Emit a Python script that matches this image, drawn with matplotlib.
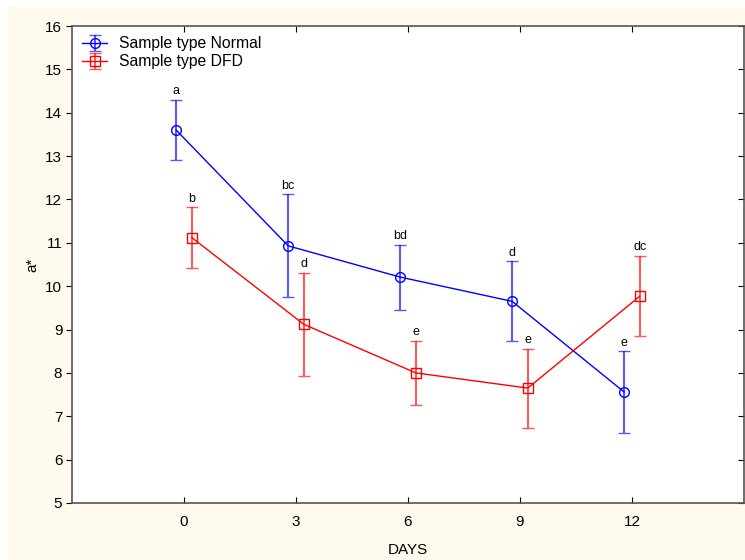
import numpy as np
import matplotlib.pyplot as plt
from matplotlib.patches import Rectangle

plt.rcParams['font.family'] = ['Liberation Sans', 'DejaVu Sans']

# DATA -------------------
days = ['0', '3', '6', '9', '12']

normal_mean = [13.6, 10.93, 10.21, 9.65, 7.56]
normal_err = [0.70, 1.19, 0.75, 0.92, 0.94]
normal_letters = ['a', 'bc', 'bd', 'd', 'e']

dfd_mean = [11.12, 9.12, 8.0, 7.65, 9.77]
dfd_err = [0.70, 1.19, 0.74, 0.91, 0.93]
dfd_letters = ['b', 'd', 'e', 'e', 'dc']

# PLOTTING -------------
fig = plt.figure(figsize=(7.45, 5.6), dpi=100, facecolor='white')
# cream panel behind the plot (leaves thin white strip top/left)
fig.patches.append(Rectangle((8 / 745, 0), 1, 1 - 7 / 560, transform=fig.transFigure,
                             facecolor='#FFF9EE', edgecolor='none', zorder=-10))

ax = fig.add_axes([72 / 745, 57 / 560, 672 / 745, 477 / 560])
ax.set_facecolor('white')

x = np.arange(len(days))
off = 0.07

series = [
    (x - off, normal_mean, normal_err, normal_letters, (0, 0, 1), 'o', 'Sample type Normal'),
    (x + off, dfd_mean, dfd_err, dfd_letters, (1, 0, 0), 's', 'Sample type DFD'),
]

for xs, m, e, letters, col, mk, lab in series:
    ax.errorbar(xs, m, yerr=e, color=col, ecolor=col + (0.65,), elinewidth=1.5, capsize=4.5,
                capthick=1.5, marker=mk, markersize=7, markerfacecolor='none',
                markeredgecolor=col, markeredgewidth=1, linewidth=1, label=lab)
    for xi, mi, ei, t in zip(xs, m, e, letters):
        ax.text(xi, mi + ei + 0.06, t, ha='center', va='bottom', fontsize=9)

ax.set_xlim(-1, 5)
ax.set_ylim(5, 16)
ax.set_xticks(x)
ax.set_xticklabels(days)
ax.set_yticks(np.arange(5, 17, 1))
ax.tick_params(axis='x', direction='in', top=True, labelsize=11, length=4, pad=9)
ax.tick_params(axis='y', direction='out', labelsize=11, length=4, pad=3, right=True)
for t in ax.yaxis.get_ticklines()[1::2]:
    t.set_marker(0)  # right-side ticks point inward
for sp in ax.spines.values():
    sp.set_color('#555555')
    sp.set_linewidth(1.2)

ax.set_xlabel('DAYS', fontsize=11, labelpad=10)
ax.set_ylabel('a*', fontsize=11, labelpad=4)

ax.legend(loc='upper left', frameon=False, fontsize=11.3, handlelength=1.6,
          handletextpad=0.75, borderaxespad=0.25, labelspacing=0.2,
          borderpad=0.4)

plt.savefig('out.png', dpi=100)
